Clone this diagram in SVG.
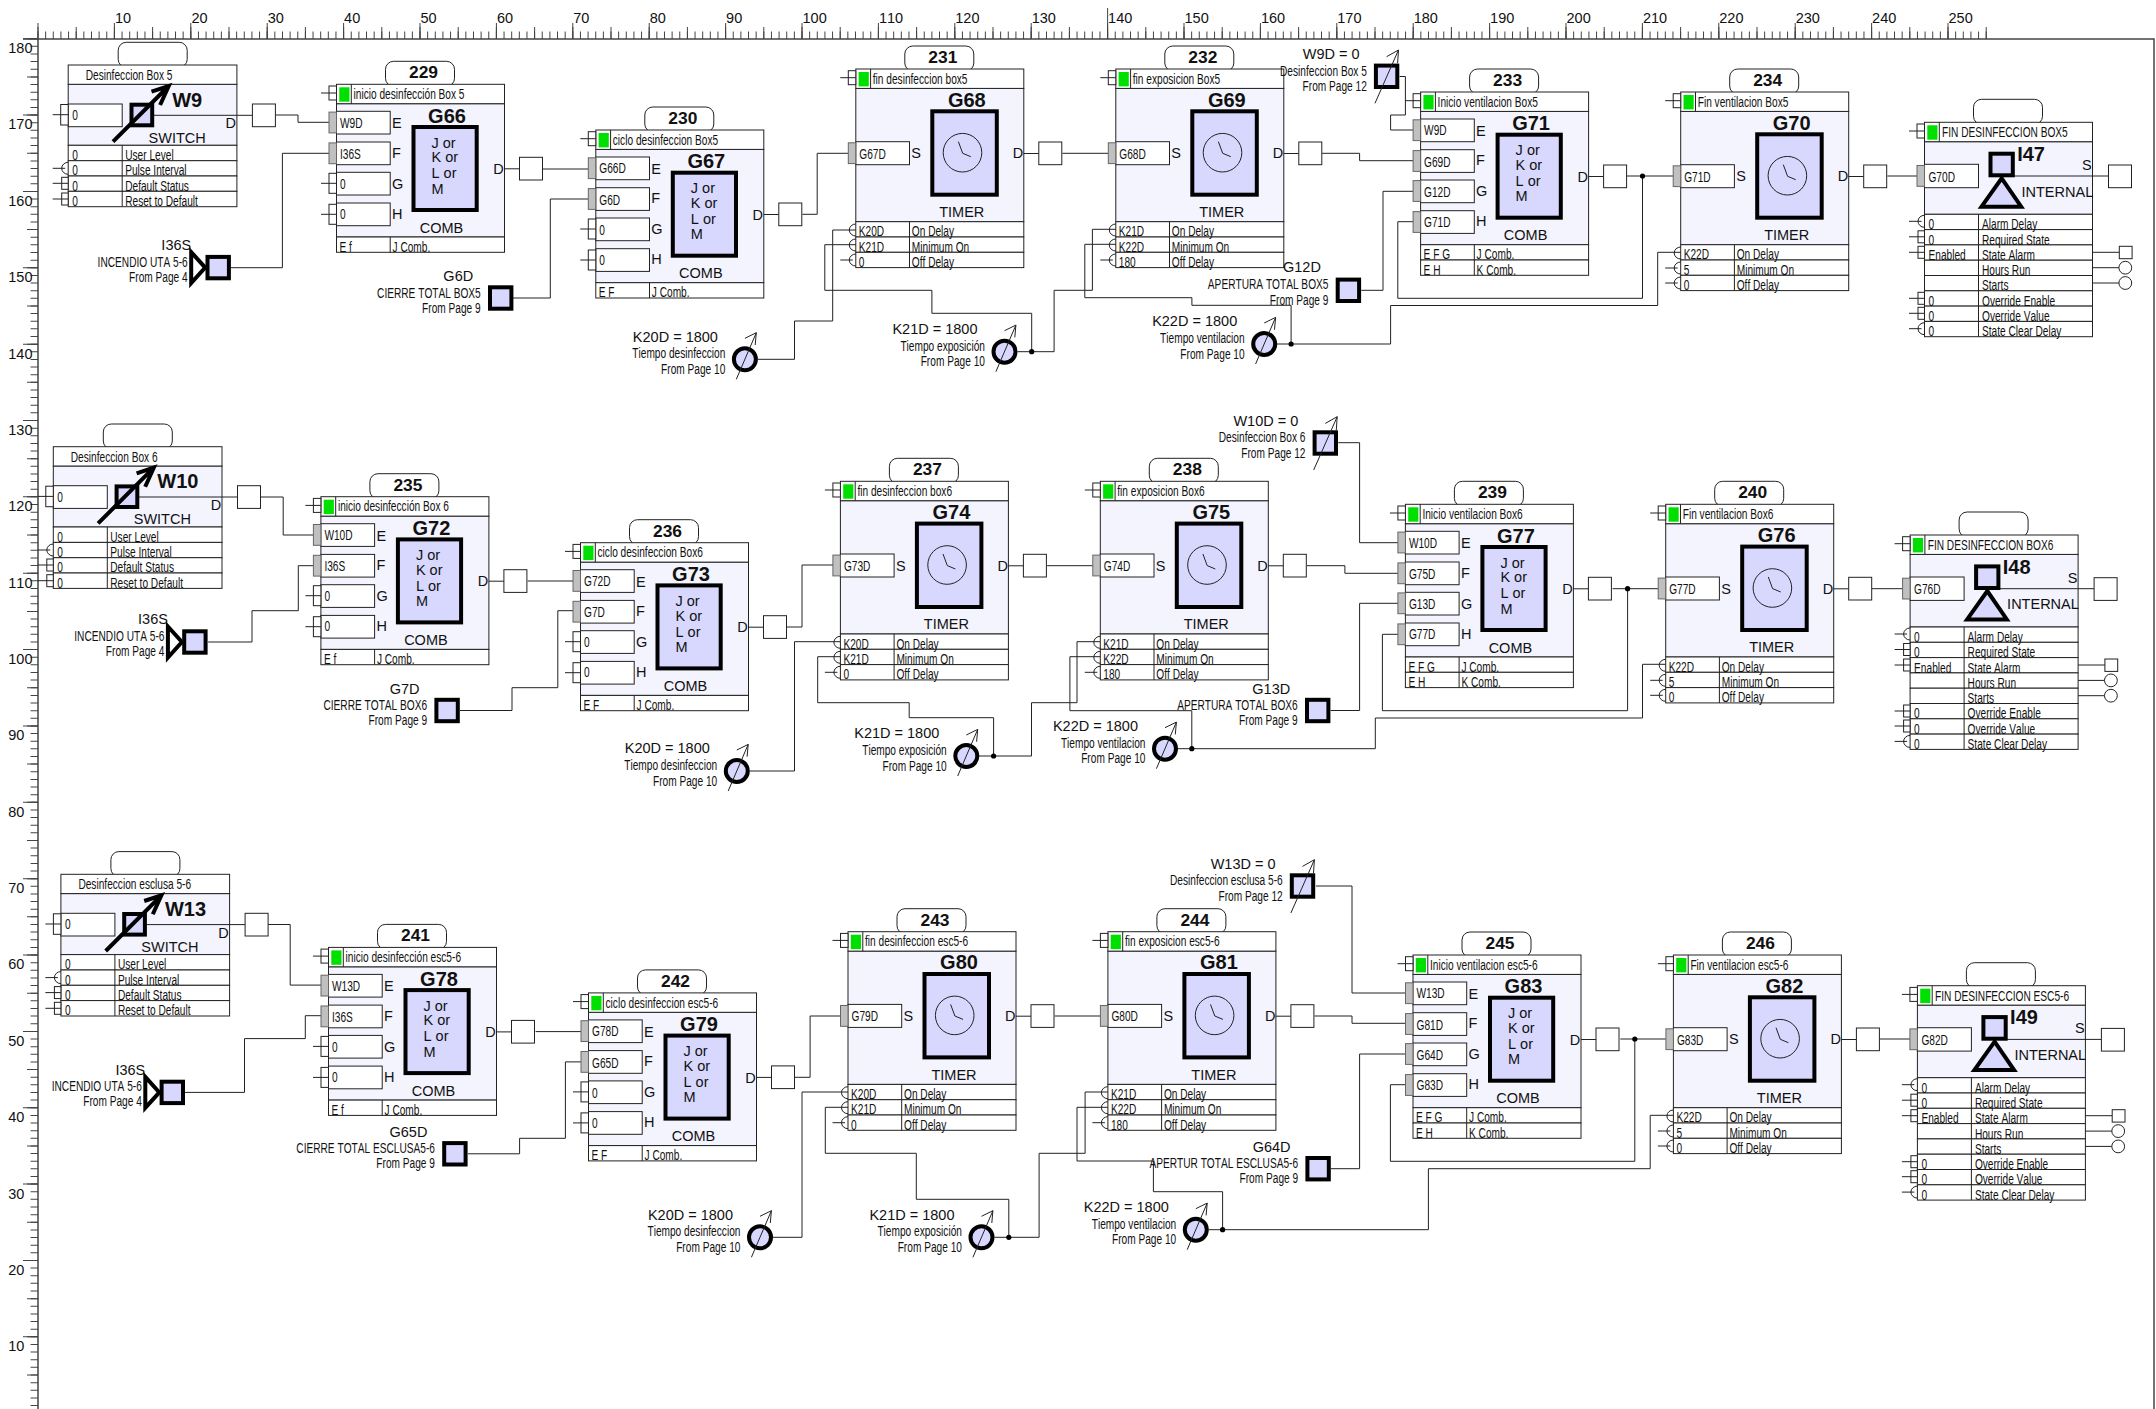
<svg xmlns="http://www.w3.org/2000/svg" width="2156" height="1409" viewBox="0 0 2156 1409">
<style>
text{font-family:"Liberation Sans",Arial,sans-serif;font-size:14.5px;fill:#111;font-kerning:none}
.te{text-anchor:end}.tm{text-anchor:middle}
.b{font-weight:bold;font-size:17.4px;text-anchor:middle}
.h{font-weight:bold;font-size:20px;text-anchor:middle}
.hs{font-weight:bold;font-size:20px}
.n,.ne{transform-box:fill-box;transform:scaleX(.7)}
.n{transform-origin:0 0}.ne{transform-origin:100% 0;text-anchor:end}
.l{fill:none;stroke:#222;stroke-width:1}
.w{fill:#fff;stroke:#222;stroke-width:1}
.bd{fill:#f4f4ff;stroke:#222;stroke-width:1}
.ic{fill:#d8d8ff;stroke:#000;stroke-width:4}
.a{fill:none;stroke:#000;stroke-width:4}
.g{fill:#c0c0c0;stroke:#666;stroke-width:1}
.gr{fill:#00e000;stroke:none}
.d{fill:#000}
.rk{stroke:#444;fill:none}
</style>
<defs>
<g id="ph"><rect class="w" x="-7.5" y="-7" width="7.5" height="14"/><path class="l" d="M-15.5 0H0"/></g>
<g id="pg"><rect class="g" x="-7.5" y="-10.4" width="7.5" height="20.8"/></g>
<g id="pb"><rect class="w" x="-7.5" y="-10" width="7.5" height="20"/><path class="l" d="M-15.5 0H0"/></g>
<g id="ps"><rect class="w" x="-6.5" y="-6" width="6.5" height="12"/><path class="l" d="M-15.5 0H0"/></g>
<g id="pa"><path class="l" d="M0 -6A6.5 6 0 0 0 0 6"/></g>
<g id="pr"><path class="l" d="M0 -6A6.5 6 0 0 0 0 6M-15.5 0H-3"/></g>
<g id="top">
<rect class="w" x="49" y="-23" width="69" height="25" rx="8"/>
<rect class="w" width="168" height="19.4"/>
<path class="l" d="M14.8 0V19.4"/>
<rect class="gr" x="2.8" y="3" width="10.2" height="14.4"/>
<use href="#ph" y="8.7"/>
</g>
<g id="outb"><path class="l" d="M168 84.5H183"/><rect class="w" x="183" y="73" width="23" height="22.7"/></g>
<g id="comb">
<rect class="bd" y="19.4" width="168" height="133.3"/>
<rect class="w" y="152.7" width="168" height="15.3"/>
<path class="l" d="M53.7 152.7V168"/>
<use href="#top"/>
<rect class="w" y="27" width="53.7" height="22.7"/>
<rect class="w" y="57.7" width="53.7" height="22.7"/>
<rect class="w" y="88" width="53.7" height="22.7"/>
<rect class="w" y="118.7" width="53.7" height="22.7"/>
<rect class="ic" x="77" y="42.7" width="63.2" height="83"/>
<use href="#outb"/>
</g>
<g id="row2"><rect class="w" y="168" width="168" height="15.3"/><path class="l" d="M53.7 168V183.3"/></g>
<g id="timer">
<rect class="bd" y="19.4" width="168" height="133.3"/>
<rect class="w" y="152.7" width="168" height="15.3"/>
<rect class="w" y="168" width="168" height="15.3"/>
<rect class="w" y="183.3" width="168" height="15.3"/>
<path class="l" d="M53.7 152.7V198.6"/>
<use href="#top"/>
<rect class="w" y="72.7" width="53.7" height="23"/>
<rect class="ic" x="76.5" y="42.3" width="64.5" height="83.4"/>
<circle class="l" cx="106.7" cy="83.7" r="19.3"/>
<path class="l" d="M102.6 72.7L106.9 84.3L115 87.7"/>
<use href="#outb"/>
<use href="#pg" y="84.2"/>
</g>
<g id="switch">
<rect class="bd" y="19.3" width="168.7" height="61"/>
<rect class="w" x="50" y="-22.7" width="69" height="25" rx="8"/>
<rect class="w" width="168.7" height="19.3"/>
<rect class="w" y="80.3" width="168.7" height="15.4"/>
<rect class="w" y="95.7" width="168.7" height="15.3"/>
<rect class="w" y="111" width="168.7" height="15.3"/>
<rect class="w" y="126.3" width="168.7" height="15.4"/>
<path class="l" d="M54 80.3V141.7"/>
<rect class="w" y="39" width="54" height="22.7"/>
<rect class="w" x="-7.5" y="39.5" width="7.5" height="20.5"/>
<path class="l" d="M-15.5 49.7H0M84 50.3H184.2"/>
<rect class="ic" x="63.3" y="39.7" width="20.7" height="20.6"/>
<path class="a" d="M44.8 76.7L100.5 21M83.3 26.7L100.5 21L91.9 40"/>
<rect class="w" x="184.2" y="39" width="23" height="22.7"/>
<use href="#pr" y="103.3"/><use href="#ps" y="118.3"/><use href="#ps" y="134"/>
</g>
<g id="internal">
<rect class="bd" y="19.4" width="168" height="72.6"/>
<use href="#top"/>
<rect class="w" y="92" width="168" height="15.3"/>
<rect class="w" y="107.3" width="168" height="15.3"/>
<rect class="w" y="122.6" width="168" height="15.3"/>
<rect class="w" y="137.9" width="168" height="15.3"/>
<rect class="w" y="153.2" width="168" height="15.3"/>
<rect class="w" y="168.5" width="168" height="15.3"/>
<rect class="w" y="183.8" width="168" height="15.3"/>
<rect class="w" y="199.1" width="168" height="15.3"/>
<path class="l" d="M54 92V214.4"/>
<rect class="w" y="42" width="54" height="23.4"/>
<use href="#pg" y="53.6"/>
<path class="l" d="M88 53.7H184M168 130H195M168 145.4H194.5M168 160.7H194.5"/>
<rect class="ic" x="66" y="31.4" width="22.3" height="21.6"/>
<path class="ic" d="M77.2 56L96.7 84.4H57Z"/>
<rect class="w" x="184" y="42.7" width="23" height="22.7"/>
<rect class="w" x="194.8" y="124" width="12.8" height="12.4"/>
<circle class="w" cx="200.8" cy="145.4" r="6.4"/>
<circle class="w" cx="200.8" cy="160.7" r="6.4"/>
<use href="#pr" y="99"/><use href="#ps" y="114.5"/><use href="#ps" y="130"/>
<use href="#ps" y="176"/><use href="#ps" y="191"/><use href="#pr" y="206.4"/>
</g>
<g id="sq"><rect class="ic" x="-10.7" y="-10.7" width="21.4" height="21.4"/></g>
<g id="sqt"><path class="a" style="fill:#fff" d="M-27 -15.5L-13 0L-27 15.5Z"/><use href="#sq"/></g>
<g id="dial"><circle class="ic" r="11"/><path class="l" d="M-8.6 20L11.4 -26.6M0 -21L11.4 -26.6L10.3 -14.3"/></g>
<g id="sqa"><use href="#sq"/><path class="l" d="M-11.6 27L11.9 -26.3M0 -19.6L11.9 -26.3L11 -13"/></g>
</defs>
<rect width="2156" height="1409" fill="#fff"/>
<g id="ruler">
<path class="rk" stroke-width="1.5" d="M23 39H2154V1409M38 39V1409"/>
<path class="rk" stroke-width="7.5" stroke-dasharray="1 6.64" d="M37.5 35.2H1987"/>
<path class="rk" stroke-width="12" stroke-dasharray="1 37.2" d="M37.5 33H1987"/>
<path class="rk" stroke-width="16" stroke-dasharray="1 75.4" d="M37.5 31H1987"/>
<path class="rk" stroke-width="1" d="M1107.6 8V39"/>
<path class="rk" stroke-width="7.5" stroke-dasharray="1 6.636" d="M34.3 38.2V1409"/>
<path class="rk" stroke-width="11" stroke-dasharray="1 37.18" d="M32.5 38.2V1409"/>
<path class="rk" stroke-width="15" stroke-dasharray="1 75.36" d="M30.5 38.2V1409"/>
<text x="115" y="23">10</text><text x="191.4" y="23">20</text><text x="267.7" y="23">30</text><text x="344.1" y="23">40</text><text x="420.5" y="23">50</text><text x="496.9" y="23">60</text><text x="573.3" y="23">70</text><text x="649.7" y="23">80</text><text x="726.1" y="23">90</text><text x="802.5" y="23">100</text><text x="878.9" y="23">110</text><text x="955.3" y="23">120</text><text x="1031.7" y="23">130</text><text x="1108.1" y="23">140</text><text x="1184.5" y="23">150</text><text x="1260.9" y="23">160</text><text x="1337.3" y="23">170</text><text x="1413.7" y="23">180</text><text x="1490.1" y="23">190</text><text x="1566.5" y="23">200</text><text x="1642.9" y="23">210</text><text x="1719.3" y="23">220</text><text x="1795.7" y="23">230</text><text x="1872.1" y="23">240</text><text x="1948.5" y="23">250</text>
<text x="8.3" y="53">180</text><text x="8.3" y="129.4">170</text><text x="8.3" y="205.7">160</text><text x="8.3" y="282.1">150</text><text x="8.3" y="358.5">140</text><text x="8.3" y="434.8">130</text><text x="8.3" y="511.2">120</text><text x="8.3" y="587.6">110</text><text x="8.3" y="663.9">100</text><text x="8.3" y="740.3">90</text><text x="8.3" y="816.7">80</text><text x="8.3" y="893">70</text><text x="8.3" y="969.4">60</text><text x="8.3" y="1045.8">50</text><text x="8.3" y="1122.1">40</text><text x="8.3" y="1198.5">30</text><text x="8.3" y="1274.9">20</text><text x="8.3" y="1351.2">10</text>
</g>
<g id="connectors">
<path class="l" d="M275.5 115H298V122.3H329"/>
<path class="l" d="M231 267.7H282.4V153.3H329"/>
<path class="l" d="M542.3 169H588.3"/>
<path class="l" d="M513 298H550.3V199H588.3"/>
<path class="l" d="M802.4 214.3H817.2V153.3H848.3"/>
<path class="l" d="M758 359.3H794.5V321H832.7V230H856"/>
<path class="l" d="M1017.5 351.7H1054.1V290.3H1092.4V229.3H1116"/>
<path class="l" d="M1031.7 351.7V313.3H931.9V290.3H824.8V244.7H856"/>
<path class="l" d="M1062.4 153.3H1108.3"/>
<path class="l" d="M1277 344H1390.6V305.5H1657.7V252.3H1681"/>
<path class="l" d="M1291.1 344V305.3H1191.9V297.7H1084.8V244.3H1116"/>
<path class="l" d="M1322.1 153.3H1359.6V160.7H1413.3"/>
<path class="l" d="M1399.6 76.5H1405.4V115H1390.6V130H1413.3"/>
<path class="l" d="M1361.3 290.3H1383V191.3H1413.3"/>
<path class="l" d="M1626.7 176H1673.5"/>
<path class="l" d="M1642.5 176V298.3H1397.8V221.7H1413.3"/>
<path class="l" d="M1887.4 176H1917.3"/>
<path class="l" d="M260.6 497H283.2V535H313.4"/>
<path class="l" d="M208.1 642H252V610.7H298.3V565.7H313.4"/>
<path class="l" d="M527.6 581H573"/>
<path class="l" d="M460 710.5H512V687.7H557.8V610.7H573"/>
<path class="l" d="M787 627H802V565H833"/>
<path class="l" d="M749.8 771H794.5V641.7H840.4"/>
<path class="l" d="M979 756H1031.5V702.7H1077V641.7H1100.3"/>
<path class="l" d="M993.6 756V717.7H909.2V702.7H817.7V656.7H840.4"/>
<path class="l" d="M1047.1 565.7H1092.7"/>
<path class="l" d="M1178 748.7H1375.3V718H1642.5V664.3H1665.7"/>
<path class="l" d="M1191.8 748.7V710.7H1069.9V656.7H1100.3"/>
<path class="l" d="M1307 565.7H1344.9V573.3H1398"/>
<path class="l" d="M1338.2 442.7H1359.6V542.7H1398"/>
<path class="l" d="M1330.6 710.5H1359.6V603.3H1398"/>
<path class="l" d="M1612.6 588.7H1658"/>
<path class="l" d="M1627.6 588.7V710.7H1382.4V634.3H1398"/>
<path class="l" d="M1872 588.7H1902.6"/>
<path class="l" d="M268 924.5H290.2V985.1H321"/>
<path class="l" d="M185 1092.4H244.5V1038.6H305.3V1015.7H321"/>
<path class="l" d="M535.6 1031.6H581"/>
<path class="l" d="M468 1153.8H519.6V1138.3H565.4V1061.9H581"/>
<path class="l" d="M794.9 1077.3H810.1V1016H840.5"/>
<path class="l" d="M773 1237.3H802V1092H848"/>
<path class="l" d="M994.5 1237.3H1039.1V1153.3H1085.1V1092H1107.9"/>
<path class="l" d="M1008.8 1237.3V1199.3H916.3V1153.3H825.3V1107.3H848"/>
<path class="l" d="M1054.7 1016H1100"/>
<path class="l" d="M1208.8 1229.7H1428.4V1168.7H1650.2V1115.3H1673.4"/>
<path class="l" d="M1222.6 1229.7V1191.7H1153.4V1161H1077V1107.3H1107.9"/>
<path class="l" d="M1314.6 1016H1352V1023.3H1405.2"/>
<path class="l" d="M1315.9 886H1352V993H1405"/>
<path class="l" d="M1331 1168.7H1359.6V1054H1405"/>
<path class="l" d="M1620.3 1039H1665.8"/>
<path class="l" d="M1634.8 1039V1161.3H1390.4V1084.7H1405"/>
<path class="l" d="M1879.8 1039H1910"/>
<circle class="d" cx="1031.7" cy="351.7" r="2.6"/><circle class="d" cx="1291.1" cy="344" r="2.6"/><circle class="d" cx="1642.5" cy="176" r="2.6"/><circle class="d" cx="993.6" cy="756" r="2.6"/><circle class="d" cx="1191.8" cy="748.7" r="2.6"/><circle class="d" cx="1627.6" cy="588.7" r="2.6"/><circle class="d" cx="1008.8" cy="1237.3" r="2.6"/><circle class="d" cx="1222.6" cy="1229.7" r="2.6"/><circle class="d" cx="1634.8" cy="1039" r="2.6"/>
</g>

<g id="W9" transform="translate(68.2 65)"><use href="#switch"/><text class="n" x="17.5" y="15">Desinfeccion Box 5</text><text class="n" x="4" y="55">0</text><text class="hs" x="104" y="41.7">W9</text><text class="tm" x="109" y="77.7">SWITCH</text><text x="157.4" y="63.3">D</text><text class="n" x="4" y="95">0</text><text class="n" x="57" y="95">User Level</text><text class="n" x="4" y="110.3">0</text><text class="n" x="57" y="110.3">Pulse Interval</text><text class="n" x="4" y="125.6">0</text><text class="n" x="57" y="125.6">Default Status</text><text class="n" x="4" y="141">0</text><text class="n" x="57" y="141">Reset to Default</text></g>
<g id="W10" transform="translate(53.3 446.7)"><use href="#switch"/><text class="n" x="17.5" y="15">Desinfeccion Box 6</text><text class="n" x="4" y="55">0</text><text class="hs" x="104" y="41.7">W10</text><text class="tm" x="109" y="77.7">SWITCH</text><text x="157.4" y="63.3">D</text><text class="n" x="4" y="95">0</text><text class="n" x="57" y="95">User Level</text><text class="n" x="4" y="110.3">0</text><text class="n" x="57" y="110.3">Pulse Interval</text><text class="n" x="4" y="125.6">0</text><text class="n" x="57" y="125.6">Default Status</text><text class="n" x="4" y="141">0</text><text class="n" x="57" y="141">Reset to Default</text></g>
<g id="W13" transform="translate(60.9 874.3)"><use href="#switch"/><text class="n" x="17.5" y="15">Desinfeccion esclusa 5-6</text><text class="n" x="4" y="55">0</text><text class="hs" x="104" y="41.7">W13</text><text class="tm" x="109" y="77.7">SWITCH</text><text x="157.4" y="63.3">D</text><text class="n" x="4" y="95">0</text><text class="n" x="57" y="95">User Level</text><text class="n" x="4" y="110.3">0</text><text class="n" x="57" y="110.3">Pulse Interval</text><text class="n" x="4" y="125.6">0</text><text class="n" x="57" y="125.6">Default Status</text><text class="n" x="4" y="141">0</text><text class="n" x="57" y="141">Reset to Default</text></g>

<g id="G66" transform="translate(336.5 84.3)"><use href="#comb"/><use href="#pg" y="38.2"/><use href="#pg" y="69"/><use href="#pb" y="99"/><use href="#pb" y="130"/><text class="b" x="87" y="-6">229</text><text class="n" x="17" y="14.7">inicio desinfección Box 5</text><text class="h" x="110.5" y="38.4">G66</text><text class="n" x="3.5" y="43.4">W9D</text><text class="n" x="3.5" y="74.7">I36S</text><text class="n" x="3.5" y="104.7">0</text><text class="n" x="3.5" y="134.7">0</text><text x="55.5" y="44">E</text><text x="55.5" y="73.4">F</text><text x="55.5" y="104.4">G</text><text x="55.5" y="134.4">H</text><text x="95" y="63.4">J or</text><text x="95" y="78">K or</text><text x="95" y="94">L or</text><text x="95" y="109.4">M</text><text class="tm" x="105" y="148.4">COMB</text><text x="156.8" y="89.7">D</text><text class="n" x="3" y="167.3">E f</text><text class="n" x="56" y="167.3">J Comb.</text></g>
<g id="G67" transform="translate(595.8 130)"><use href="#comb"/><use href="#pg" y="38.2"/><use href="#pg" y="69"/><use href="#pb" y="99"/><use href="#pb" y="130"/><text class="b" x="87" y="-6">230</text><text class="n" x="17" y="14.7">ciclo desinfeccion Box5</text><text class="h" x="110.5" y="38.4">G67</text><text class="n" x="3.5" y="43.4">G66D</text><text class="n" x="3.5" y="74.7">G6D</text><text class="n" x="3.5" y="104.7">0</text><text class="n" x="3.5" y="134.7">0</text><text x="55.5" y="44">E</text><text x="55.5" y="73.4">F</text><text x="55.5" y="104.4">G</text><text x="55.5" y="134.4">H</text><text x="95" y="63.4">J or</text><text x="95" y="78">K or</text><text x="95" y="94">L or</text><text x="95" y="109.4">M</text><text class="tm" x="105" y="148.4">COMB</text><text x="156.8" y="89.7">D</text><text class="n" x="3" y="167.3">E F</text><text class="n" x="56" y="167.3">J Comb.</text></g>
<g id="G71" transform="translate(1420.6 92)"><use href="#comb"/><use href="#row2"/><use href="#pg" y="38.2"/><use href="#pg" y="69"/><use href="#pg" y="99"/><use href="#pg" y="130"/><text class="b" x="87" y="-6">233</text><text class="n" x="17" y="14.7">Inicio ventilacion Box5</text><text class="h" x="110.5" y="38.4">G71</text><text class="n" x="3.5" y="43.4">W9D</text><text class="n" x="3.5" y="74.7">G69D</text><text class="n" x="3.5" y="104.7">G12D</text><text class="n" x="3.5" y="134.7">G71D</text><text x="55.5" y="44">E</text><text x="55.5" y="73.4">F</text><text x="55.5" y="104.4">G</text><text x="55.5" y="134.4">H</text><text x="95" y="63.4">J or</text><text x="95" y="78">K or</text><text x="95" y="94">L or</text><text x="95" y="109.4">M</text><text class="tm" x="105" y="148.4">COMB</text><text x="156.8" y="89.7">D</text><text class="n" x="3" y="167.3">E F G</text><text class="n" x="56" y="167.3">J Comb.</text><text class="n" x="3" y="182.6">E H</text><text class="n" x="56" y="182.6">K Comb.</text></g>
<g id="G72" transform="translate(320.9 496.7)"><use href="#comb"/><use href="#pg" y="38.2"/><use href="#pg" y="69"/><use href="#pb" y="99"/><use href="#pb" y="130"/><text class="b" x="87" y="-6">235</text><text class="n" x="17" y="14.7">inicio desinfección Box 6</text><text class="h" x="110.5" y="38.4">G72</text><text class="n" x="3.5" y="43.4">W10D</text><text class="n" x="3.5" y="74.7">I36S</text><text class="n" x="3.5" y="104.7">0</text><text class="n" x="3.5" y="134.7">0</text><text x="55.5" y="44">E</text><text x="55.5" y="73.4">F</text><text x="55.5" y="104.4">G</text><text x="55.5" y="134.4">H</text><text x="95" y="63.4">J or</text><text x="95" y="78">K or</text><text x="95" y="94">L or</text><text x="95" y="109.4">M</text><text class="tm" x="105" y="148.4">COMB</text><text x="156.8" y="89.7">D</text><text class="n" x="3" y="167.3">E f</text><text class="n" x="56" y="167.3">J Comb.</text></g>
<g id="G73" transform="translate(580.5 542.7)"><use href="#comb"/><use href="#pg" y="38.2"/><use href="#pg" y="69"/><use href="#pb" y="99"/><use href="#pb" y="130"/><text class="b" x="87" y="-6">236</text><text class="n" x="17" y="14.7">ciclo desinfeccion Box6</text><text class="h" x="110.5" y="38.4">G73</text><text class="n" x="3.5" y="43.4">G72D</text><text class="n" x="3.5" y="74.7">G7D</text><text class="n" x="3.5" y="104.7">0</text><text class="n" x="3.5" y="134.7">0</text><text x="55.5" y="44">E</text><text x="55.5" y="73.4">F</text><text x="55.5" y="104.4">G</text><text x="55.5" y="134.4">H</text><text x="95" y="63.4">J or</text><text x="95" y="78">K or</text><text x="95" y="94">L or</text><text x="95" y="109.4">M</text><text class="tm" x="105" y="148.4">COMB</text><text x="156.8" y="89.7">D</text><text class="n" x="3" y="167.3">E F</text><text class="n" x="56" y="167.3">J Comb.</text></g>
<g id="G77" transform="translate(1405.4 504.3)"><use href="#comb"/><use href="#row2"/><use href="#pg" y="38.2"/><use href="#pg" y="69"/><use href="#pg" y="99"/><use href="#pg" y="130"/><text class="b" x="87" y="-6">239</text><text class="n" x="17" y="14.7">Inicio ventilacion Box6</text><text class="h" x="110.5" y="38.4">G77</text><text class="n" x="3.5" y="43.4">W10D</text><text class="n" x="3.5" y="74.7">G75D</text><text class="n" x="3.5" y="104.7">G13D</text><text class="n" x="3.5" y="134.7">G77D</text><text x="55.5" y="44">E</text><text x="55.5" y="73.4">F</text><text x="55.5" y="104.4">G</text><text x="55.5" y="134.4">H</text><text x="95" y="63.4">J or</text><text x="95" y="78">K or</text><text x="95" y="94">L or</text><text x="95" y="109.4">M</text><text class="tm" x="105" y="148.4">COMB</text><text x="156.8" y="89.7">D</text><text class="n" x="3" y="167.3">E F G</text><text class="n" x="56" y="167.3">J Comb.</text><text class="n" x="3" y="182.6">E H</text><text class="n" x="56" y="182.6">K Comb.</text></g>
<g id="G78" transform="translate(328.5 947.4)"><use href="#comb"/><use href="#pg" y="38.2"/><use href="#pg" y="69"/><use href="#pb" y="99"/><use href="#pb" y="130"/><text class="b" x="87" y="-6">241</text><text class="n" x="17" y="14.7">inicio desinfección esc5-6</text><text class="h" x="110.5" y="38.4">G78</text><text class="n" x="3.5" y="43.4">W13D</text><text class="n" x="3.5" y="74.7">I36S</text><text class="n" x="3.5" y="104.7">0</text><text class="n" x="3.5" y="134.7">0</text><text x="55.5" y="44">E</text><text x="55.5" y="73.4">F</text><text x="55.5" y="104.4">G</text><text x="55.5" y="134.4">H</text><text x="95" y="63.4">J or</text><text x="95" y="78">K or</text><text x="95" y="94">L or</text><text x="95" y="109.4">M</text><text class="tm" x="105" y="148.4">COMB</text><text x="156.8" y="89.7">D</text><text class="n" x="3" y="167.3">E f</text><text class="n" x="56" y="167.3">J Comb.</text></g>
<g id="G79" transform="translate(588.5 992.9)"><use href="#comb"/><use href="#pg" y="38.2"/><use href="#pg" y="69"/><use href="#pb" y="99"/><use href="#pb" y="130"/><text class="b" x="87" y="-6">242</text><text class="n" x="17" y="14.7">ciclo desinfeccion esc5-6</text><text class="h" x="110.5" y="38.4">G79</text><text class="n" x="3.5" y="43.4">G78D</text><text class="n" x="3.5" y="74.7">G65D</text><text class="n" x="3.5" y="104.7">0</text><text class="n" x="3.5" y="134.7">0</text><text x="55.5" y="44">E</text><text x="55.5" y="73.4">F</text><text x="55.5" y="104.4">G</text><text x="55.5" y="134.4">H</text><text x="95" y="63.4">J or</text><text x="95" y="78">K or</text><text x="95" y="94">L or</text><text x="95" y="109.4">M</text><text class="tm" x="105" y="148.4">COMB</text><text x="156.8" y="89.7">D</text><text class="n" x="3" y="167.3">E F</text><text class="n" x="56" y="167.3">J Comb.</text></g>
<g id="G83" transform="translate(1413 955)"><use href="#comb"/><use href="#row2"/><use href="#pg" y="38.2"/><use href="#pg" y="69"/><use href="#pg" y="99"/><use href="#pg" y="130"/><text class="b" x="87" y="-6">245</text><text class="n" x="17" y="14.7">Inicio ventilacion esc5-6</text><text class="h" x="110.5" y="38.4">G83</text><text class="n" x="3.5" y="43.4">W13D</text><text class="n" x="3.5" y="74.7">G81D</text><text class="n" x="3.5" y="104.7">G64D</text><text class="n" x="3.5" y="134.7">G83D</text><text x="55.5" y="44">E</text><text x="55.5" y="73.4">F</text><text x="55.5" y="104.4">G</text><text x="55.5" y="134.4">H</text><text x="95" y="63.4">J or</text><text x="95" y="78">K or</text><text x="95" y="94">L or</text><text x="95" y="109.4">M</text><text class="tm" x="105" y="148.4">COMB</text><text x="156.8" y="89.7">D</text><text class="n" x="3" y="167.3">E F G</text><text class="n" x="56" y="167.3">J Comb.</text><text class="n" x="3" y="182.6">E H</text><text class="n" x="56" y="182.6">K Comb.</text></g>

<g id="G68" transform="translate(855.8 69)"><use href="#timer"/><use href="#pa" y="161"/><use href="#pa" y="176"/><use href="#pr" y="191"/><text class="b" x="87" y="-6">231</text><text class="n" x="17" y="14.7">fin desinfeccion box5</text><text class="h" x="111" y="37.7">G68</text><text class="n" x="3.5" y="89.7">G67D</text><text x="55.5" y="89.3">S</text><text class="tm" x="106" y="148">TIMER</text><text x="157" y="89.3">D</text><text class="n" x="3" y="167.3">K20D</text><text class="n" x="56" y="167.3">On Delay</text><text class="n" x="3" y="182.6">K21D</text><text class="n" x="56" y="182.6">Minimum On</text><text class="n" x="3" y="198">0</text><text class="n" x="56" y="198">Off Delay</text></g>
<g id="G69" transform="translate(1115.8 69)"><use href="#timer"/><use href="#pa" y="161"/><use href="#pa" y="176"/><use href="#pr" y="191"/><text class="b" x="87" y="-6">232</text><text class="n" x="17" y="14.7">fin exposicion Box5</text><text class="h" x="111" y="37.7">G69</text><text class="n" x="3.5" y="89.7">G68D</text><text x="55.5" y="89.3">S</text><text class="tm" x="106" y="148">TIMER</text><text x="157" y="89.3">D</text><text class="n" x="3" y="167.3">K21D</text><text class="n" x="56" y="167.3">On Delay</text><text class="n" x="3" y="182.6">K22D</text><text class="n" x="56" y="182.6">Minimum On</text><text class="n" x="3" y="198">180</text><text class="n" x="56" y="198">Off Delay</text></g>
<g id="G70" transform="translate(1680.7 92)"><use href="#timer"/><use href="#pa" y="161"/><use href="#pr" y="176"/><use href="#pr" y="191"/><text class="b" x="87" y="-6">234</text><text class="n" x="17" y="14.7">Fin ventilacion Box5</text><text class="h" x="111" y="37.7">G70</text><text class="n" x="3.5" y="89.7">G71D</text><text x="55.5" y="89.3">S</text><text class="tm" x="106" y="148">TIMER</text><text x="157" y="89.3">D</text><text class="n" x="3" y="167.3">K22D</text><text class="n" x="56" y="167.3">On Delay</text><text class="n" x="3" y="182.6">5</text><text class="n" x="56" y="182.6">Minimum On</text><text class="n" x="3" y="198">0</text><text class="n" x="56" y="198">Off Delay</text></g>
<g id="G74" transform="translate(840.4 481.3)"><use href="#timer"/><use href="#pa" y="161"/><use href="#pa" y="176"/><use href="#pr" y="191"/><text class="b" x="87" y="-6">237</text><text class="n" x="17" y="14.7">fin desinfeccion box6</text><text class="h" x="111" y="37.7">G74</text><text class="n" x="3.5" y="89.7">G73D</text><text x="55.5" y="89.3">S</text><text class="tm" x="106" y="148">TIMER</text><text x="157" y="89.3">D</text><text class="n" x="3" y="167.3">K20D</text><text class="n" x="56" y="167.3">On Delay</text><text class="n" x="3" y="182.6">K21D</text><text class="n" x="56" y="182.6">Minimum On</text><text class="n" x="3" y="198">0</text><text class="n" x="56" y="198">Off Delay</text></g>
<g id="G75" transform="translate(1100.3 481.3)"><use href="#timer"/><use href="#pa" y="161"/><use href="#pa" y="176"/><use href="#pr" y="191"/><text class="b" x="87" y="-6">238</text><text class="n" x="17" y="14.7">fin exposicion Box6</text><text class="h" x="111" y="37.7">G75</text><text class="n" x="3.5" y="89.7">G74D</text><text x="55.5" y="89.3">S</text><text class="tm" x="106" y="148">TIMER</text><text x="157" y="89.3">D</text><text class="n" x="3" y="167.3">K21D</text><text class="n" x="56" y="167.3">On Delay</text><text class="n" x="3" y="182.6">K22D</text><text class="n" x="56" y="182.6">Minimum On</text><text class="n" x="3" y="198">180</text><text class="n" x="56" y="198">Off Delay</text></g>
<g id="G76" transform="translate(1665.7 504.3)"><use href="#timer"/><use href="#pa" y="161"/><use href="#pr" y="176"/><use href="#pr" y="191"/><text class="b" x="87" y="-6">240</text><text class="n" x="17" y="14.7">Fin ventilacion Box6</text><text class="h" x="111" y="37.7">G76</text><text class="n" x="3.5" y="89.7">G77D</text><text x="55.5" y="89.3">S</text><text class="tm" x="106" y="148">TIMER</text><text x="157" y="89.3">D</text><text class="n" x="3" y="167.3">K22D</text><text class="n" x="56" y="167.3">On Delay</text><text class="n" x="3" y="182.6">5</text><text class="n" x="56" y="182.6">Minimum On</text><text class="n" x="3" y="198">0</text><text class="n" x="56" y="198">Off Delay</text></g>
<g id="G80" transform="translate(848 931.7)"><use href="#timer"/><use href="#pa" y="161"/><use href="#pa" y="176"/><use href="#pr" y="191"/><text class="b" x="87" y="-6">243</text><text class="n" x="17" y="14.7">fin desinfeccion esc5-6</text><text class="h" x="111" y="37.7">G80</text><text class="n" x="3.5" y="89.7">G79D</text><text x="55.5" y="89.3">S</text><text class="tm" x="106" y="148">TIMER</text><text x="157" y="89.3">D</text><text class="n" x="3" y="167.3">K20D</text><text class="n" x="56" y="167.3">On Delay</text><text class="n" x="3" y="182.6">K21D</text><text class="n" x="56" y="182.6">Minimum On</text><text class="n" x="3" y="198">0</text><text class="n" x="56" y="198">Off Delay</text></g>
<g id="G81" transform="translate(1107.9 931.7)"><use href="#timer"/><use href="#pa" y="161"/><use href="#pa" y="176"/><use href="#pr" y="191"/><text class="b" x="87" y="-6">244</text><text class="n" x="17" y="14.7">fin exposicion esc5-6</text><text class="h" x="111" y="37.7">G81</text><text class="n" x="3.5" y="89.7">G80D</text><text x="55.5" y="89.3">S</text><text class="tm" x="106" y="148">TIMER</text><text x="157" y="89.3">D</text><text class="n" x="3" y="167.3">K21D</text><text class="n" x="56" y="167.3">On Delay</text><text class="n" x="3" y="182.6">K22D</text><text class="n" x="56" y="182.6">Minimum On</text><text class="n" x="3" y="198">180</text><text class="n" x="56" y="198">Off Delay</text></g>
<g id="G82" transform="translate(1673.4 955)"><use href="#timer"/><use href="#pa" y="161"/><use href="#pr" y="176"/><use href="#pr" y="191"/><text class="b" x="87" y="-6">246</text><text class="n" x="17" y="14.7">Fin ventilacion esc5-6</text><text class="h" x="111" y="37.7">G82</text><text class="n" x="3.5" y="89.7">G83D</text><text x="55.5" y="89.3">S</text><text class="tm" x="106" y="148">TIMER</text><text x="157" y="89.3">D</text><text class="n" x="3" y="167.3">K22D</text><text class="n" x="56" y="167.3">On Delay</text><text class="n" x="3" y="182.6">5</text><text class="n" x="56" y="182.6">Minimum On</text><text class="n" x="3" y="198">0</text><text class="n" x="56" y="198">Off Delay</text></g>

<g id="I47" transform="translate(1924.5 122.3)"><use href="#internal"/><text class="n" x="17.6" y="15">FIN DESINFECCION BOX5</text><text class="hs" x="92.7" y="38.7">I47</text><text x="157.6" y="47.7">S</text><text x="97" y="74.4">INTERNAL</text><text class="n" x="4" y="59.4">G70D</text><text class="n" x="4" y="107">0</text><text class="n" x="57.5" y="107">Alarm Delay</text><text class="n" x="4" y="122.3">0</text><text class="n" x="57.5" y="122.3">Required State</text><text class="n" x="4" y="137.6">Enabled</text><text class="n" x="57.5" y="137.6">State Alarm</text><text class="n" x="57.5" y="152.9">Hours Run</text><text class="n" x="57.5" y="168.2">Starts</text><text class="n" x="4" y="183.5">0</text><text class="n" x="57.5" y="183.5">Override Enable</text><text class="n" x="4" y="198.8">0</text><text class="n" x="57.5" y="198.8">Override Value</text><text class="n" x="4" y="214">0</text><text class="n" x="57.5" y="214">State Clear Delay</text></g>
<g id="I48" transform="translate(1910.1 535)"><use href="#internal"/><text class="n" x="17.6" y="15">FIN DESINFECCION BOX6</text><text class="hs" x="92.7" y="38.7">I48</text><text x="157.6" y="47.7">S</text><text x="97" y="74.4">INTERNAL</text><text class="n" x="4" y="59.4">G76D</text><text class="n" x="4" y="107">0</text><text class="n" x="57.5" y="107">Alarm Delay</text><text class="n" x="4" y="122.3">0</text><text class="n" x="57.5" y="122.3">Required State</text><text class="n" x="4" y="137.6">Enabled</text><text class="n" x="57.5" y="137.6">State Alarm</text><text class="n" x="57.5" y="152.9">Hours Run</text><text class="n" x="57.5" y="168.2">Starts</text><text class="n" x="4" y="183.5">0</text><text class="n" x="57.5" y="183.5">Override Enable</text><text class="n" x="4" y="198.8">0</text><text class="n" x="57.5" y="198.8">Override Value</text><text class="n" x="4" y="214">0</text><text class="n" x="57.5" y="214">State Clear Delay</text></g>
<g id="I49" transform="translate(1917.4 985.7)"><use href="#internal"/><text class="n" x="17.6" y="15">FIN DESINFECCION ESC5-6</text><text class="hs" x="92.7" y="38.7">I49</text><text x="157.6" y="47.7">S</text><text x="97" y="74.4">INTERNAL</text><text class="n" x="4" y="59.4">G82D</text><text class="n" x="4" y="107">0</text><text class="n" x="57.5" y="107">Alarm Delay</text><text class="n" x="4" y="122.3">0</text><text class="n" x="57.5" y="122.3">Required State</text><text class="n" x="4" y="137.6">Enabled</text><text class="n" x="57.5" y="137.6">State Alarm</text><text class="n" x="57.5" y="152.9">Hours Run</text><text class="n" x="57.5" y="168.2">Starts</text><text class="n" x="4" y="183.5">0</text><text class="n" x="57.5" y="183.5">Override Enable</text><text class="n" x="4" y="198.8">0</text><text class="n" x="57.5" y="198.8">Override Value</text><text class="n" x="4" y="214">0</text><text class="n" x="57.5" y="214">State Clear Delay</text></g>

<g id="src-I36S-1" transform="translate(218.2 267.6)"><use href="#sqt"/><text class="te" x="-27" y="-17.6">I36S</text><text class="ne" x="-30.5" y="-1">INCENDIO UTA 5-6</text><text class="ne" x="-30.5" y="14">From Page 4</text></g>
<g id="src-G6D" transform="translate(500.7 298)"><use href="#sq"/><text class="te" x="-27.5" y="-17">G6D</text><text class="ne" x="-20" y="-0.5">CIERRE TOTAL BOX5</text><text class="ne" x="-20" y="14.7">From Page 9</text></g>
<g id="src-K20D-1" transform="translate(744.9 359.3)"><use href="#dial"/><text class="te" x="-27" y="-17.6">K20D = 1800</text><text class="ne" x="-19.6" y="-1">Tiempo desinfeccion</text><text class="ne" x="-19.6" y="14.7">From Page 10</text></g>
<g id="src-K21D-1" transform="translate(1004.5 351.7)"><use href="#dial"/><text class="te" x="-27" y="-17.6">K21D = 1800</text><text class="ne" x="-19.6" y="-1">Tiempo exposición</text><text class="ne" x="-19.6" y="14.7">From Page 10</text></g>
<g id="src-K22D-1" transform="translate(1264.2 344)"><use href="#dial"/><text class="te" x="-27" y="-17.6">K22D = 1800</text><text class="ne" x="-19.6" y="-1">Tiempo ventilacion</text><text class="ne" x="-19.6" y="14.7">From Page 10</text></g>
<g id="src-W9D" transform="translate(1386.6 76.3)"><use href="#sqa"/><text class="te" x="-27" y="-17.3">W9D = 0</text><text class="ne" x="-19.8" y="-0.6">Desinfeccion Box 5</text><text class="ne" x="-19.8" y="15">From Page 12</text></g>
<g id="src-G12D" transform="translate(1348.4 290.3)"><use href="#sq"/><text class="te" x="-27.5" y="-18">G12D</text><text class="ne" x="-20" y="-1">APERTURA TOTAL BOX5</text><text class="ne" x="-20" y="14.7">From Page 9</text></g>

<g id="src-I36S-2" transform="translate(194.9 642)"><use href="#sqt"/><text class="te" x="-27" y="-17.6">I36S</text><text class="ne" x="-30.5" y="-1">INCENDIO UTA 5-6</text><text class="ne" x="-30.5" y="14">From Page 4</text></g>
<g id="src-G7D" transform="translate(447.1 710.5)"><use href="#sq"/><text class="te" x="-27.5" y="-17">G7D</text><text class="ne" x="-20" y="-0.5">CIERRE TOTAL BOX6</text><text class="ne" x="-20" y="14.7">From Page 9</text></g>
<g id="src-K20D-2" transform="translate(736.8 771)"><use href="#dial"/><text class="te" x="-27" y="-17.6">K20D = 1800</text><text class="ne" x="-19.6" y="-1">Tiempo desinfeccion</text><text class="ne" x="-19.6" y="14.7">From Page 10</text></g>
<g id="src-K21D-2" transform="translate(966.3 756)"><use href="#dial"/><text class="te" x="-27" y="-17.6">K21D = 1800</text><text class="ne" x="-19.6" y="-1">Tiempo exposición</text><text class="ne" x="-19.6" y="14.7">From Page 10</text></g>
<g id="src-K22D-2" transform="translate(1165 748.7)"><use href="#dial"/><text class="te" x="-27" y="-17.6">K22D = 1800</text><text class="ne" x="-19.6" y="-1">Tiempo ventilacion</text><text class="ne" x="-19.6" y="14.7">From Page 10</text></g>
<g id="src-W10D" transform="translate(1325.3 443)"><use href="#sqa"/><text class="te" x="-27" y="-17.3">W10D = 0</text><text class="ne" x="-19.8" y="-0.6">Desinfeccion Box 6</text><text class="ne" x="-19.8" y="15">From Page 12</text></g>
<g id="src-G13D" transform="translate(1317.7 710.5)"><use href="#sq"/><text class="te" x="-27.5" y="-17">G13D</text><text class="ne" x="-20" y="-0.5">APERTURA TOTAL BOX6</text><text class="ne" x="-20" y="14.7">From Page 9</text></g>

<g id="src-I36S-3" transform="translate(172.3 1092.4)"><use href="#sqt"/><text class="te" x="-27" y="-17.6">I36S</text><text class="ne" x="-30.5" y="-1">INCENDIO UTA 5-6</text><text class="ne" x="-30.5" y="14">From Page 4</text></g>
<g id="src-G65D" transform="translate(454.9 1153.8)"><use href="#sq"/><text class="te" x="-27.5" y="-17">G65D</text><text class="ne" x="-20" y="-0.5">CIERRE TOTAL ESCLUSA5-6</text><text class="ne" x="-20" y="14.7">From Page 9</text></g>
<g id="src-K20D-3" transform="translate(760 1237.3)"><use href="#dial"/><text class="te" x="-27" y="-17.6">K20D = 1800</text><text class="ne" x="-19.6" y="-1">Tiempo desinfeccion</text><text class="ne" x="-19.6" y="14.7">From Page 10</text></g>
<g id="src-K21D-3" transform="translate(981.5 1237.3)"><use href="#dial"/><text class="te" x="-27" y="-17.6">K21D = 1800</text><text class="ne" x="-19.6" y="-1">Tiempo exposición</text><text class="ne" x="-19.6" y="14.7">From Page 10</text></g>
<g id="src-K22D-3" transform="translate(1195.8 1229.7)"><use href="#dial"/><text class="te" x="-27" y="-17.6">K22D = 1800</text><text class="ne" x="-19.6" y="-1">Tiempo ventilacion</text><text class="ne" x="-19.6" y="14.7">From Page 10</text></g>
<g id="src-W13D" transform="translate(1302.5 886)"><use href="#sqa"/><text class="te" x="-27" y="-17.3">W13D = 0</text><text class="ne" x="-19.8" y="-0.6">Desinfeccion esclusa 5-6</text><text class="ne" x="-19.8" y="15">From Page 12</text></g>
<g id="src-G64D" transform="translate(1318.1 1168.7)"><use href="#sq"/><text class="te" x="-27.5" y="-17">G64D</text><text class="ne" x="-20" y="-0.5">APERTUR TOTAL ESCLUSA5-6</text><text class="ne" x="-20" y="14.7">From Page 9</text></g>
</svg>
